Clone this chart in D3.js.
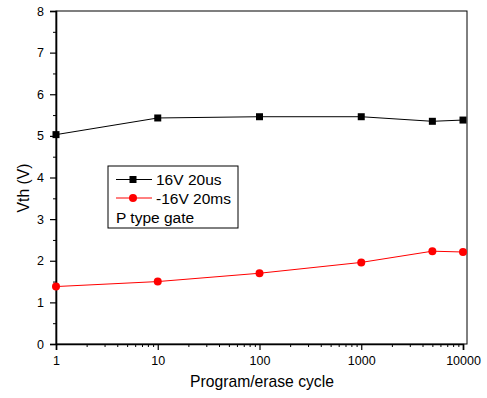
<!DOCTYPE html>
<html>
<head>
<meta charset="utf-8">
<script src="https://cdn.jsdelivr.net/npm/d3@7"></script>
<style>
  body { margin: 0; background: #fff; }
  text { font-family: "Liberation Sans", Arial, sans-serif; fill: #000; }
</style>
</head>
<body>
<svg id="chart"></svg>
<script>
// data
const cycles = [1, 10, 100, 1000, 5000, 10000];
const vthProgram = [5.03, 5.43, 5.46, 5.46, 5.35, 5.38];
const vthErase = [1.38, 1.50, 1.70, 1.96, 2.23, 2.21];
const xTicks = [1, 10, 100, 1000, 10000];
const yTicks = [0, 1, 2, 3, 4, 5, 6, 7, 8];
const legendLabels = ['16V 20us', '-16V 20ms', 'P type gate'];

const width = 487, height = 398;
const margin = { top: 11, right: 20, bottom: 54, left: 56 };
const innerW = width - margin.left - margin.right;
const innerH = height - margin.top - margin.bottom;

const svg = d3.select('#chart').attr('width', width).attr('height', height);
const chart = svg.append('g').attr('transform', `translate(${margin.left},${margin.top})`);

const xScale = d3.scaleLog().domain([1, 10000]).range([0, 407]);
const yScale = d3.scaleLinear().domain([0, 8]).range([innerH, 0]);

// frame
chart.append('rect')
  .attr('width', innerW).attr('height', innerH)
  .attr('fill', 'none').attr('stroke', '#000').attr('stroke-width', 1);

// minor ticks
const xMinor = [];
for (let d = 1; d < 10000; d *= 10) for (let k = 2; k <= 9; k++) xMinor.push(d * k);
chart.append('g')
  .attr('transform', `translate(0,${innerH})`)
  .call(d3.axisBottom(xScale).tickValues(xMinor).tickSize(3).tickFormat(''))
  .call(g => g.select('.domain').remove());

chart.append('g')
  .call(d3.axisLeft(yScale).tickValues(d3.range(0.5, 8, 1)).tickSize(3).tickFormat(''))
  .call(g => g.select('.domain').remove());

// major axes
const xAxisG = chart.append('g')
  .attr('transform', `translate(0,${innerH})`)
  .call(d3.axisBottom(xScale).tickValues(xTicks).tickSize(6).tickPadding(6).tickFormat(d3.format('d')));
const yAxisG = chart.append('g')
  .call(d3.axisLeft(yScale).tickValues(yTicks).tickSize(6).tickPadding(6));

[xAxisG, yAxisG].forEach(g => {
  g.selectAll('text').style('font-size', '12.5px').style('font-family', '"Liberation Sans", Arial, sans-serif');
  g.select('.domain').attr('stroke-width', 1.6);
  g.selectAll('.tick line').attr('stroke-width', 1.2);
});

// axis labels
svg.append('text')
  .attr('text-anchor', 'middle')
  .attr('x', 262)
  .attr('y', 387)
  .style('font-size', '15.7px')
  .text('Program/erase cycle');

svg.append('text')
  .attr('text-anchor', 'middle')
  .attr('transform', 'translate(29,188) rotate(-90)')
  .style('font-size', '15.7px')
  .text('Vth (V)');

// lines and markers
const line = d3.line().x(d => xScale(d[0])).y(d => yScale(d[1]));
const progData = cycles.map((c, i) => [c, vthProgram[i]]);
const eraseData = cycles.map((c, i) => [c, vthErase[i]]);

chart.append('path').datum(progData)
  .attr('d', line).attr('fill', 'none').attr('stroke', '#000').attr('stroke-width', 1);
chart.append('path').datum(eraseData)
  .attr('d', line).attr('fill', 'none').attr('stroke', '#ff0000').attr('stroke-width', 1);

chart.selectAll('.sq').data(progData).enter().append('rect')
  .attr('class', 'sq')
  .attr('x', d => xScale(d[0]) - 3.5).attr('y', d => yScale(d[1]) - 3.5)
  .attr('width', 7).attr('height', 7).attr('fill', '#000');

chart.selectAll('.dot').data(eraseData).enter().append('circle')
  .attr('class', 'dot')
  .attr('cx', d => xScale(d[0])).attr('cy', d => yScale(d[1]))
  .attr('r', 4).attr('fill', '#ff0000');

// legend
const legend = svg.append('g').attr('transform', 'translate(108,166)');
legend.append('rect')
  .attr('width', 130).attr('height', 62)
  .attr('fill', '#fff').attr('stroke', '#000').attr('stroke-width', 1);

const legendColors = ['#000', '#ff0000'];
legendColors.forEach((c, i) => {
  const y = 13.5 + i * 18.5;
  legend.append('line').attr('x1', 8).attr('x2', 44).attr('y1', y).attr('y2', y)
    .attr('stroke', c).attr('stroke-width', 1);
  if (i === 0) {
    legend.append('rect').attr('x', 21.5).attr('y', y - 3.5).attr('width', 7).attr('height', 7).attr('fill', c);
  } else {
    legend.append('circle').attr('cx', 25).attr('cy', y).attr('r', 4).attr('fill', c);
  }
});
legendLabels.forEach((t, i) => {
  legend.append('text')
    .attr('x', i < 2 ? 48 : 8)
    .attr('y', 19 + i * 19)
    .style('font-size', '15.5px')
    .text(t);
});
</script>
</body>
</html>
